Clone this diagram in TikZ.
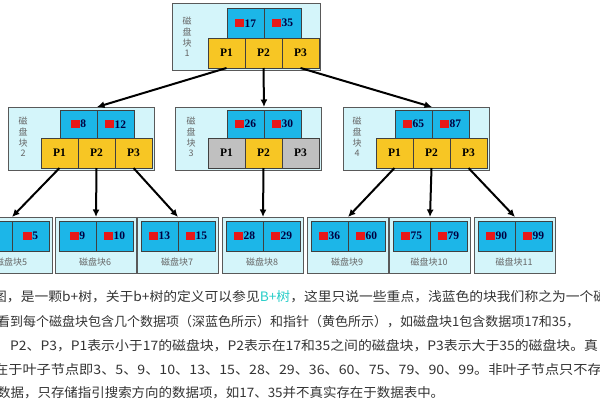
\documentclass[tikz,border=0pt]{standalone}
\usepackage{fontspec}
\setmainfont{Liberation Serif}
\newfontfamily\cjk{Noto Sans CJK SC}
\usetikzlibrary{arrows.meta, positioning}
\definecolor{blkbg}{RGB}{212,245,250}
\definecolor{keyblue}{RGB}{28,182,232}
\definecolor{ptrgold}{RGB}{247,198,36}
\definecolor{ptrgrey}{RGB}{192,192,192}
\definecolor{keyred}{RGB}{232,24,24}
\definecolor{linkcyan}{RGB}{40,205,200}
\newcommand{\rsq}{{\color{keyred}\rule{9pt}{8pt}}\hspace{0.5pt}}

\begin{document}
\begin{tikzpicture}[
  x=1pt, y=-1pt,
  blockbox/.style={rectangle, draw=black!65, fill=blkbg, line width=0.6pt, anchor=north west, minimum width=146pt, minimum height=63pt, inner sep=0pt, outer sep=0pt},
  leafbox/.style={blockbox, minimum width=81pt, minimum height=56pt},
  keycell/.style={rectangle, draw=black!75, fill=keyblue, line width=0.6pt, minimum width=37pt, minimum height=28pt, inner sep=0pt, outer sep=0pt, font=\bfseries\fontsize{11.5}{12}\selectfont, text=black!75!blue},
  leafkey/.style={keycell, minimum height=30pt},
  ptrcell/.style={keycell, fill=ptrgold, minimum height=30pt, text=black, font=\bfseries\fontsize{11.5}{12}\selectfont},
  ptroff/.style={ptrcell, fill=ptrgrey},
  blocktag/.style={align=center, text=black!60, font=\cjk\fontsize{9}{10.8}\selectfont, inner sep=0pt},
  leaftag/.style={text=black!60, font=\cjk\fontsize{9}{10}\selectfont, inner sep=0pt},
  para/.style={anchor=west, inner sep=0pt, text=black!80, font=\cjk\fontsize{13}{15}\selectfont},
  arr/.style={-{Latex[length=7.5pt,width=7pt]}, line width=2pt}
]
\useasboundingbox (0,0) rectangle (600,400);
\clip (0,0) rectangle (600,400);

\node[blockbox, minimum width=148pt, minimum height=67pt] (b1) at (172,3) {};
\node[keycell, anchor=north west, minimum height=30pt] (b1k1) at (227,8) {\rsq17};
\node[keycell, right=0pt of b1k1, minimum height=30pt] (b1k2) {\rsq35};
\node[ptrcell, anchor=north west] (b1p1) at ([xshift=-19pt]b1k1.south west) {P1};
\node[ptrcell, right=0pt of b1p1] (b1p2) {P2};
\node[ptrcell, right=0pt of b1p2] (b1p3) {P3};
\node[blocktag] (b1t) at (187,37) {磁\\盘\\块\\1};

\node[blockbox] (b2) at (8,107) {};
\node[keycell, anchor=north west] (b2k1) at (60,110) {\rsq8};
\node[keycell, right=0pt of b2k1] (b2k2) {\rsq12};
\node[ptrcell, anchor=north west] (b2p1) at ([xshift=-19pt]b2k1.south west) {P1};
\node[ptrcell, right=0pt of b2p1] (b2p2) {P2};
\node[ptrcell, right=0pt of b2p2] (b2p3) {P3};
\node[blocktag] (b2t) at (23,137) {磁\\盘\\块\\2};

\node[blockbox] (b3) at (175,107) {};
\node[keycell, anchor=north west] (b3k1) at (227,110) {\rsq26};
\node[keycell, right=0pt of b3k1] (b3k2) {\rsq30};
\node[ptroff, anchor=north west] (b3p1) at ([xshift=-19pt]b3k1.south west) {P1};
\node[ptrcell, right=0pt of b3p1] (b3p2) {P2};
\node[ptroff, right=0pt of b3p2] (b3p3) {P3};
\node[blocktag] (b3t) at (191,137) {磁\\盘\\块\\3};

\node[blockbox] (b4) at (343,107) {};
\node[keycell, anchor=north west] (b4k1) at (395,110) {\rsq65};
\node[keycell, right=0pt of b4k1] (b4k2) {\rsq87};
\node[ptrcell, anchor=north west] (b4p1) at ([xshift=-19pt]b4k1.south west) {P1};
\node[ptrcell, right=0pt of b4p1] (b4p2) {P2};
\node[ptrcell, right=0pt of b4p2] (b4p3) {P3};
\node[blocktag] (b4t) at (357,137) {磁\\盘\\块\\4};

\node[leafbox] (l5) at (-29,217) {};
\node[leafkey, anchor=north west] (l5k1) at (-25,221) {};
\node[leafkey, right=0pt of l5k1] (l5k2) {\rsq5};
\node[leaftag] (l5t) at (11,262) {磁盘块5};

\node[leafbox] (l6) at (55,217) {};
\node[leafkey, anchor=north west] (l6k1) at (59,221) {\rsq9};
\node[leafkey, right=0pt of l6k1] (l6k2) {\rsq10};
\node[leaftag] (l6t) at (95,262) {磁盘块6};

\node[leafbox] (l7) at (137,217) {};
\node[leafkey, anchor=north west] (l7k1) at (141,221) {\rsq13};
\node[leafkey, right=0pt of l7k1] (l7k2) {\rsq15};
\node[leaftag] (l7t) at (177,262) {磁盘块7};

\node[leafbox] (l8) at (222,217) {};
\node[leafkey, anchor=north west] (l8k1) at (226,221) {\rsq28};
\node[leafkey, right=0pt of l8k1] (l8k2) {\rsq29};
\node[leaftag] (l8t) at (262,262) {磁盘块8};

\node[leafbox] (l9) at (307,217) {};
\node[leafkey, anchor=north west] (l9k1) at (311,221) {\rsq36};
\node[leafkey, right=0pt of l9k1] (l9k2) {\rsq60};
\node[leaftag] (l9t) at (347,262) {磁盘块9};

\node[leafbox] (l10) at (389,217) {};
\node[leafkey, anchor=north west] (l10k1) at (393,221) {\rsq75};
\node[leafkey, right=0pt of l10k1] (l10k2) {\rsq79};
\node[leaftag] (l10t) at (429,262) {磁盘块10};

\node[leafbox] (l11) at (474,217) {};
\node[leafkey, anchor=north west] (l11k1) at (478,221) {\rsq90};
\node[leafkey, right=0pt of l11k1] (l11k2) {\rsq99};
\node[leaftag] (l11t) at (514,262) {磁盘块11};

\node[para] (t1) at (-7,297) {\scalebox{1.06}[1]{图，是一颗b+树，关于b+树的定义可以参见{\color{linkcyan}B+树}，这里只说一些重点，浅蓝色的块我们称之为一个磁}};
\node[para] (t2) at (-3,322) {看到每个磁盘块包含几个数据项（深蓝色所示）和指针（黄色所示），如磁盘块1包含数据项17和35，};
\node[para] (t3) at (10,346) {\scalebox{1.067}[1]{P2、P3，P1表示小于17的磁盘块，P2表示在17和35之间的磁盘块，P3表示大于35的磁盘块。真}};
\node[para] (t4) at (-6,370) {\scalebox{1.09}[1]{在于叶子节点即3、5、9、10、13、15、28、29、36、60、75、79、90、99。非叶子节点只不存}};
\node[para] (t5) at (-3,393) {\scalebox{1.035}[1]{数据，只存储指引搜索方向的数据项，如17、35并不真实存在于数据表中。}};

\draw[arr] (b1p1.south) -- (b2k1.east |- b2.north);
\draw[arr] (b1p2.south) -- (b3k1.east |- b3.north);
\draw[arr] (b1p3.south) -- (b4k1.east |- b4.north);
\draw[arr] (b2p1.south) -- (l5k1.east |- l5.north);
\draw[arr] (b2p2.south) -- (l6k1.east |- l6.north);
\draw[arr] (b2p3.south) -- (l7k1.east |- l7.north);
\draw[arr] (b3p2.south) -- (l8k1.east |- l8.north);
\draw[arr] (b4p1.south) -- (l9k1.east |- l9.north);
\draw[arr] (b4p2.south) -- (l10k1.east |- l10.north);
\draw[arr] (b4p3.south) -- (l11k1.east |- l11.north);
\end{tikzpicture}
\end{document}
